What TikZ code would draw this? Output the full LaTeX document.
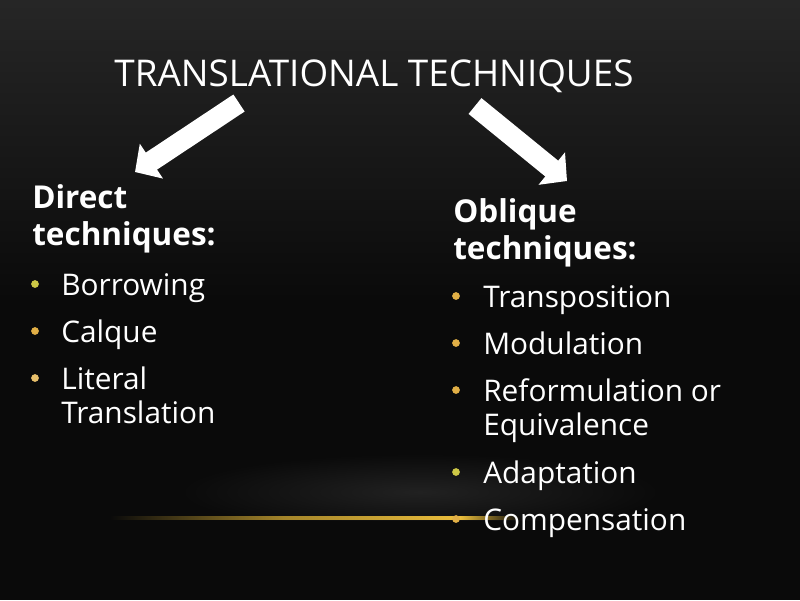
\documentclass[tikz,border=0pt]{standalone}
\usepackage{fontspec}
\setmainfont{Open Sans}
\usetikzlibrary{arrows.meta,calc}
\definecolor{bg}{RGB}{10,10,10}
\definecolor{bulA}{RGB}{205,200,70}
\definecolor{bulB}{RGB}{225,175,70}
\definecolor{gold}{RGB}{235,190,60}
\begin{document}
\begin{tikzpicture}[x=0.025cm,y=-0.025cm,
  title/.style={text=white,inner sep=0,font=\fontsize{26.2}{30}\selectfont},
  heading/.style={text=white,inner sep=0,anchor=base west,font=\fontsize{22.4}{26.3}\selectfont\bfseries},
  item/.style={text=white,inner sep=0,anchor=base west,font=\fontsize{21.2}{24.2}\selectfont},
  bullet/.style={circle,inner sep=0,minimum size=5.5,fill=#1},
  blockarrow/.style={white,line width=14.5pt,-{Triangle[width=29pt,length=14pt]}}]
\useasboundingbox (0,0) rectangle (800,600);
\shade[top color=black!85!white,bottom color=bg] (0,0) rectangle (800,300);
\fill[bg] (0,300) rectangle (800,600);
\shade[inner color=white!13!black,outer color=bg] (420,492) ellipse [x radius=240,y radius=38];
\fill[bg] (0,521) rectangle (800,600);
% glowing line
\shade[left color=bg,right color=gold,middle color=gold!70!black] (110,516.5) rectangle (460,519.5);
\shade[left color=gold,right color=bg] (460,516.5) rectangle (520,519.5);
% title
\node[title,anchor=base] (t) at (374,86) {TRANSLATIONAL TECHNIQUES};
% arrows
\coordinate (la) at (239,103);
\coordinate (lb) at (135,172);
\coordinate (ra) at (475,106);
\coordinate (rb) at (567,181);
\draw[blockarrow] (la) -- (lb);
\draw[blockarrow] (ra) -- (rb);
% left column
\node[heading] (dh1) at (32,208) {Direct};
\node[heading] (dh2) at (32,245) {techniques:};
\node[item] (l1) at (61,295) {Borrowing};
\node[item] (l2) at (61,342) {Calque};
\node[item] (l3a) at (61,389) {Literal};
\node[item] (l3b) at (61,423) {Translation};
\node[bullet=bulA] at (35,284) {};
\node[bullet=bulB] at (35,331) {};
\node[bullet=bulB!80!white] at (35,378) {};
% right column
\node[heading] (oh1) at (453,222) {Oblique};
\node[heading] (oh2) at (453,259) {techniques:};
\node[item] (r1) at (483,307) {Transposition};
\node[item] (r2) at (483,354) {Modulation};
\node[item] (r3a) at (483,401) {Reformulation or};
\node[item] (r3b) at (483,435) {Equivalence};
\node[item] (r4) at (483,483) {Adaptation};
\node[item] (r5) at (483,530) {Compensation};
\node[bullet=bulB] at (456,296) {};
\node[bullet=bulB] at (456,343) {};
\node[bullet=bulB] at (456,390) {};
\node[bullet=bulA] at (456,472) {};
\node[bullet=bulB] at (456,519) {};
\end{tikzpicture}
\end{document}
